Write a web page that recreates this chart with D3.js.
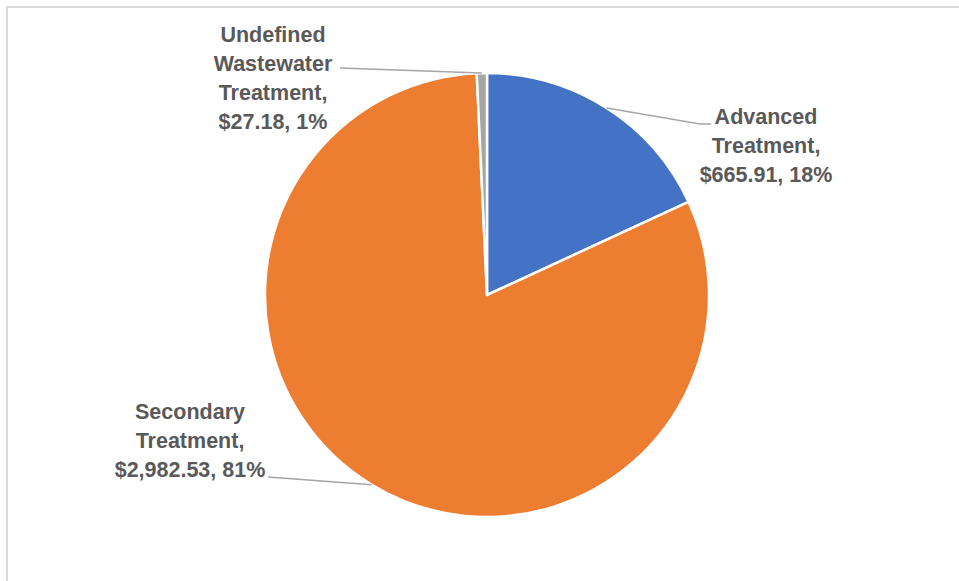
<!DOCTYPE html>
<html>
<head>
<meta charset="utf-8">
<script src="https://cdn.jsdelivr.net/npm/d3@7"></script>
<style>
  html, body { margin: 0; padding: 0; background: #fff; }
  #chart { width: 959px; height: 581px; }
  .label { font-family: "Liberation Sans", Arial, sans-serif; font-weight: bold; font-size: 21.5px; fill: #595959; }
</style>
</head>
<body>
<div id="chart"></div>
<script>
// Data
const categories = ["Advanced Treatment", "Secondary Treatment", "Undefined Wastewater Treatment"];
const amounts = [665.91, 2982.53, 27.18];
const percentLabels = ["18%", "81%", "1%"];
const labelLines = [
    ["Advanced", "Treatment,", "$665.91, 18%"],
    ["Secondary", "Treatment,", "$2,982.53, 81%"],
    ["Undefined", "Wastewater", "Treatment,", "$27.18, 1%"]
];
const sliceColors = ["#4472c4", "#ed7d31", "#a5a5a5"];

// Layout
const width = 959, height = 581;
const cx = 487, cy = 295, radius = 222;
const lineHeight = 29;

// label block centres (x, first-line y) and leader end points
const labelPlacement = [
    { x: 766, y: 116, leader: [[700, 124], [711, 124]] },
    { x: 190, y: 411, leader: [[268, 477]] },
    { x: 273, y: 34, leader: [[340, 68]] }
];

const svg = d3.select('#chart')
    .append('svg')
    .attr('width', width)
    .attr('height', height);

// chart frame
svg.append('rect')
    .attr('x', 7)
    .attr('y', 7)
    .attr('width', 970)
    .attr('height', 600)
    .attr('fill', 'none')
    .attr('stroke', '#d9d9d9')
    .attr('stroke-width', 2);

const pie = d3.pie().sort(null).value(d => d);
const arcs = pie(amounts);
const arc = d3.arc().innerRadius(0).outerRadius(radius);

const g = svg.append('g').attr('transform', `translate(${cx},${cy})`);

g.selectAll('path.slice')
    .data(arcs)
    .join('path')
    .attr('class', 'slice')
    .attr('d', arc)
    .attr('fill', (d, i) => sliceColors[i])
    .attr('stroke', '#fff')
    .attr('stroke-width', 2.5)
    .attr('stroke-linejoin', 'round');

// leader lines
arcs.forEach((d, i) => {
    const mid = (d.startAngle + d.endAngle) / 2;
    const start = [cx + radius * Math.sin(mid), cy - radius * Math.cos(mid)];
    const pts = [start].concat(labelPlacement[i].leader);
    svg.append('path')
        .attr('d', d3.line()(pts))
        .attr('fill', 'none')
        .attr('stroke', '#a6a6a6')
        .attr('stroke-width', 1.5);
});

// labels
labelLines.forEach((lines, i) => {
    const p = labelPlacement[i];
    const t = svg.append('text')
        .attr('class', 'label')
        .attr('text-anchor', 'middle');
    lines.forEach((ln, j) => {
        t.append('tspan')
            .attr('x', p.x)
            .attr('y', p.y + j * lineHeight)
            .attr('dy', '0.35em')
            .text(ln);
    });
});
</script>
</body>
</html>
